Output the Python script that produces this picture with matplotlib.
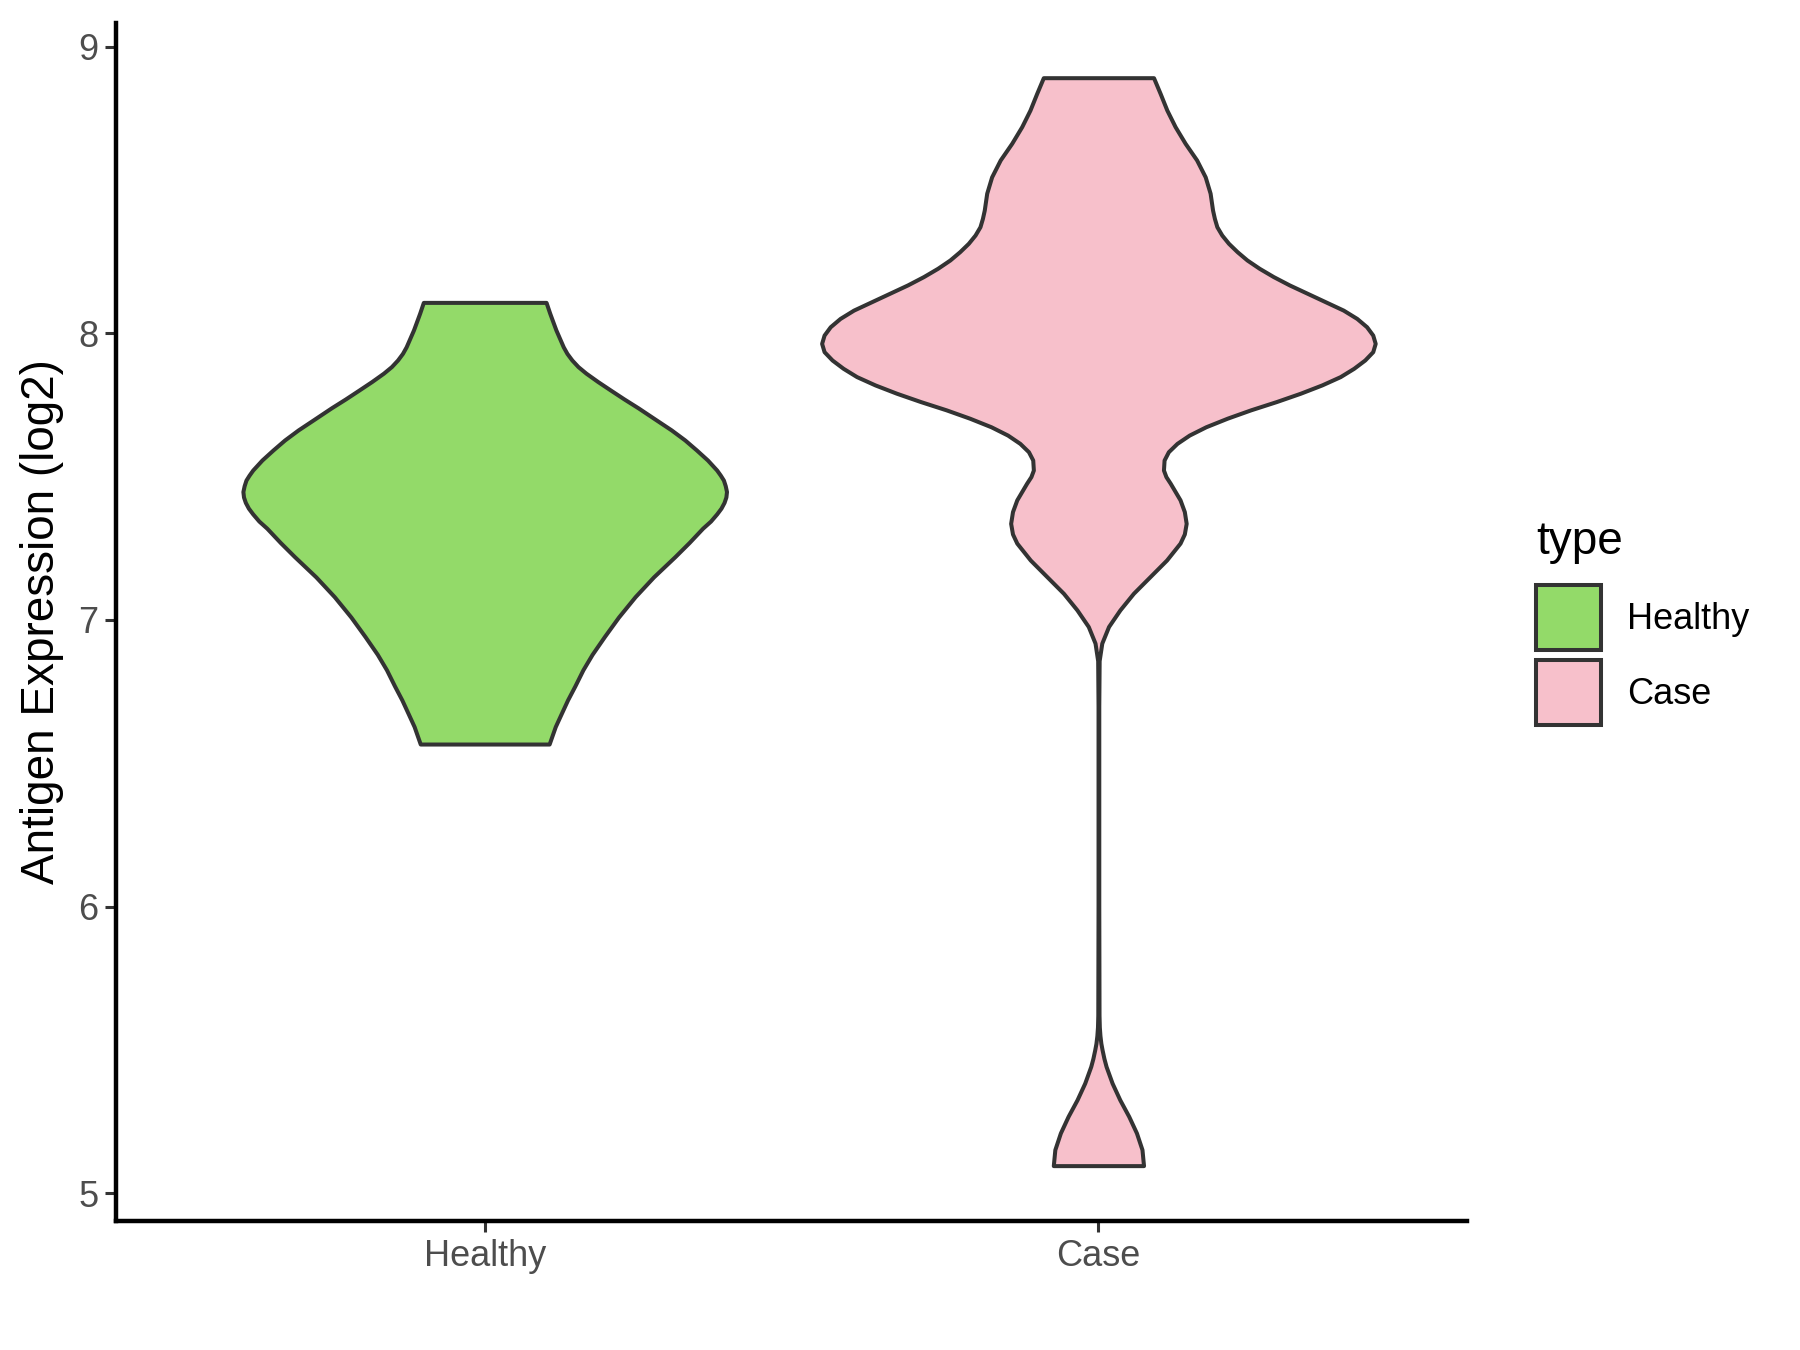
import numpy as np
import matplotlib
matplotlib.use("Agg")
import matplotlib.pyplot as plt
from matplotlib.patches import Patch

plt.rcParams['font.family'] = ['Liberation Sans', 'DejaVu Sans']

# categories and colours
groups = ["Healthy", "Case"]
fills = ["#93DA69", "#F7C0CB"]

# violin outlines: y value and half width (in category units)
healthy_y = [8.108, 8.070, 8.012, 7.953, 7.930, 7.907, 7.884, 7.861, 7.832, 7.802,
             7.771, 7.740, 7.700, 7.663, 7.628, 7.593, 7.558, 7.523, 7.505, 7.488,
             7.468, 7.448, 7.429, 7.410, 7.390, 7.370, 7.345, 7.320, 7.270, 7.221,
             7.150, 7.081, 7.010, 6.942, 6.880, 6.826, 6.770, 6.721, 6.670, 6.628,
             6.567]
healthy_hw = [0.100, 0.106, 0.116, 0.128, 0.134, 0.142, 0.152, 0.165, 0.184, 0.205,
              0.227, 0.250, 0.278, 0.304, 0.326, 0.345, 0.363, 0.378, 0.384, 0.389,
              0.392, 0.394, 0.393, 0.390, 0.385, 0.378, 0.368, 0.355, 0.333, 0.310,
              0.275, 0.245, 0.218, 0.195, 0.175, 0.160, 0.147, 0.135, 0.124, 0.115,
              0.105]

case_y = [8.892, 8.837, 8.779, 8.721, 8.663, 8.605, 8.546, 8.489, 8.430, 8.401,
          8.372, 8.343, 8.314, 8.285, 8.256, 8.227, 8.198, 8.169, 8.140, 8.110,
          8.081, 8.052, 8.023, 7.994, 7.965, 7.936, 7.907, 7.878, 7.849, 7.820,
          7.791, 7.762, 7.733, 7.704, 7.674, 7.645, 7.616, 7.587, 7.558, 7.523,
          7.500, 7.477, 7.419, 7.378, 7.337, 7.300, 7.268, 7.209, 7.151, 7.093,
          7.035, 6.977, 6.919, 6.858, 6.700, 6.000, 5.620, 5.580, 5.550, 5.523,
          5.500, 5.470, 5.442, 5.384, 5.326, 5.268, 5.210, 5.152, 5.096]
case_hw = [0.0898, 0.1006, 0.1115, 0.125, 0.1413, 0.160, 0.174, 0.182, 0.186, 0.189,
           0.193, 0.201, 0.212, 0.226, 0.242, 0.262, 0.285, 0.311, 0.340, 0.370,
           0.399, 0.421, 0.437, 0.447, 0.451, 0.447, 0.434, 0.416, 0.394, 0.364,
           0.329, 0.290, 0.248, 0.210, 0.175, 0.148, 0.128, 0.114, 0.107, 0.106,
           0.110, 0.117, 0.133, 0.140, 0.143, 0.140, 0.133, 0.111, 0.084, 0.057,
           0.035, 0.0165, 0.0055, 0.0012, 0.0006, 0.0006, 0.001, 0.0015, 0.0025, 0.004,
           0.006, 0.009, 0.0125, 0.0223, 0.0348, 0.0494, 0.062, 0.071, 0.0735]

profiles = [(healthy_y, healthy_hw), (case_y, case_hw)]

fig = plt.figure(figsize=(9, 6.75), dpi=200)
ax = fig.add_axes([0.0647, 0.0956, 0.7501, 0.8874])

# violins
for i, (ys, hw) in enumerate(profiles):
    pos = i + 1
    ys = np.array(ys)
    hw = np.array(hw)
    ax.fill_betweenx(ys, pos - hw, pos + hw, facecolor=fills[i],
                     edgecolor="#333333", linewidth=1.45, joinstyle="round")

# axes styling (ggplot classic look)
ax.set_xlim(0.4, 2.6)
ax.set_ylim(4.903, 9.083)
ax.set_xticks([1, 2])
ax.set_xticklabels(groups)
ax.set_yticks([5, 6, 7, 8, 9])
ax.set_yticklabels(["5", "6", "7", "8", "9"])
for side in ["top", "right"]:
    ax.spines[side].set_visible(False)
for side in ["left", "bottom"]:
    ax.spines[side].set_color("black")
    ax.spines[side].set_linewidth(1.6)
ax.tick_params(axis="both", colors="#333333", width=1.1, length=4,
               labelsize=13, labelcolor="#4D4D4D", pad=2.5)

ax.set_ylabel("Antigen Expression (log2)", fontsize=16.5, color="black")
ax.yaxis.label.set_verticalalignment("center")
ax.yaxis.set_label_coords(-0.0555, 0.5)

# legend: title as text, keys below
fig.text(0.8533, 0.5985, "type", fontsize=16.5, ha="left", va="center")
handles = [Patch(facecolor=fills[i], edgecolor="#333333", linewidth=1.45, label=g)
           for i, g in enumerate(groups)]
ax.legend(handles=handles, loc="upper left",
          bbox_to_anchor=(0.8536, 0.5664), bbox_transform=fig.transFigure,
          frameon=False, borderpad=0, borderaxespad=0, fontsize=13,
          handlelength=1.8, handleheight=2.39,
          handletextpad=0.7, labelspacing=0.27)

plt.savefig("out.png", dpi=200)
